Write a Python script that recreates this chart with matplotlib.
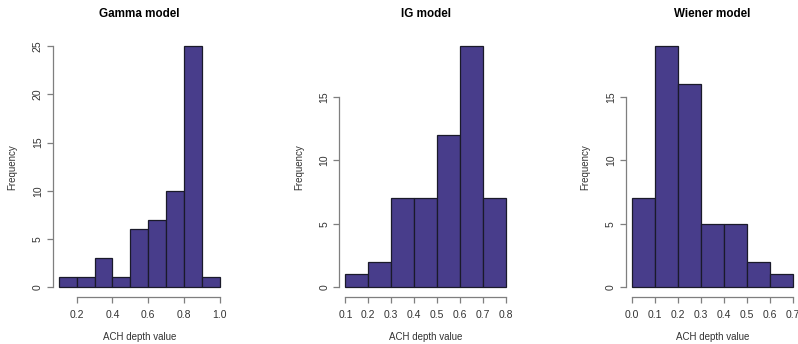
import matplotlib
matplotlib.use('Agg')
import matplotlib.pyplot as plt
import numpy as np

# Histogram data (bin edges and counts)
gamma_edges = [0.1, 0.2, 0.3, 0.4, 0.5, 0.6, 0.7, 0.8, 0.9, 1.0]
gamma_counts = [1, 1, 3, 1, 6, 7, 10, 25, 1]
gamma_xticks = [0.2, 0.4, 0.6, 0.8, 1.0]
gamma_yticks = [0, 5, 10, 15, 20, 25]

ig_edges = [0.1, 0.2, 0.3, 0.4, 0.5, 0.6, 0.7, 0.8]
ig_counts = [1, 2, 7, 7, 12, 19, 7]
ig_xticks = [0.1, 0.2, 0.3, 0.4, 0.5, 0.6, 0.7, 0.8]
ig_yticks = [0, 5, 10, 15]

wiener_edges = [0.0, 0.1, 0.2, 0.3, 0.4, 0.5, 0.6, 0.7]
wiener_counts = [7, 19, 16, 5, 5, 2, 1]
wiener_xticks = [0.0, 0.1, 0.2, 0.3, 0.4, 0.5, 0.6, 0.7]
wiener_yticks = [0, 5, 10, 15]

titles = ['Gamma model', 'IG model', 'Wiener model']

plt.rcParams['font.family'] = ['Liberation Sans', 'DejaVu Sans']

fig = plt.figure(figsize=(7.98, 3.44), dpi=100)
fig.patch.set_facecolor('white')

lefts = [0.0658, 0.4248, 0.7841]
width, bottom, height = 0.2174, 0.1378, 0.7555

panels = [
    (gamma_edges, gamma_counts, gamma_xticks, gamma_yticks),
    (ig_edges, ig_counts, ig_xticks, ig_yticks),
    (wiener_edges, wiener_counts, wiener_xticks, wiener_yticks),
]

text_col = '#333333'
axis_col = '#7f7f7f'

for left, title, (edges, counts, xt, yt) in zip(lefts, titles, panels):
    ax = fig.add_axes([left, bottom, width, height])
    edges = np.array(edges)
    ax.bar(edges[:-1], counts, width=np.diff(edges), align='edge',
           color='#483D8B', edgecolor='#1a1a2a', linewidth=0.9)

    # R-style 4% axis extension
    xr = edges[-1] - edges[0]
    ax.set_xlim(edges[0] - 0.04 * xr, edges[-1] + 0.04 * xr)
    ymax = max(counts)
    ax.set_ylim(-0.04 * ymax, ymax * 1.04)

    ax.set_xticks(xt)
    ax.set_xticklabels([f'{v:.1f}' for v in xt])
    ax.set_yticks(yt)
    ax.set_yticklabels([str(v) for v in yt])

    for s in ['top', 'right']:
        ax.spines[s].set_visible(False)
    ax.spines['left'].set_bounds(yt[0], yt[-1])
    ax.spines['bottom'].set_bounds(xt[0], xt[-1])
    for s in ['left', 'bottom']:
        ax.spines[s].set_color(axis_col)
        ax.spines[s].set_linewidth(0.9)

    ax.tick_params(axis='both', length=4, width=0.9, color=axis_col,
                   labelsize=7.5, labelcolor=text_col)
    ax.tick_params(axis='x', pad=6)
    ax.tick_params(axis='y', pad=3, labelrotation=90)
    for lab in ax.get_yticklabels():
        lab.set_va('center')

    ax.set_title(title, fontsize=8.4, fontweight='bold', pad=14, color='black')
    ax.set_xlabel('ACH depth value', fontsize=7, color=text_col, labelpad=8)
    ax.set_ylabel('Frequency', fontsize=7, color=text_col, labelpad=11)

fig.savefig('out.png', dpi=100, facecolor='white')
